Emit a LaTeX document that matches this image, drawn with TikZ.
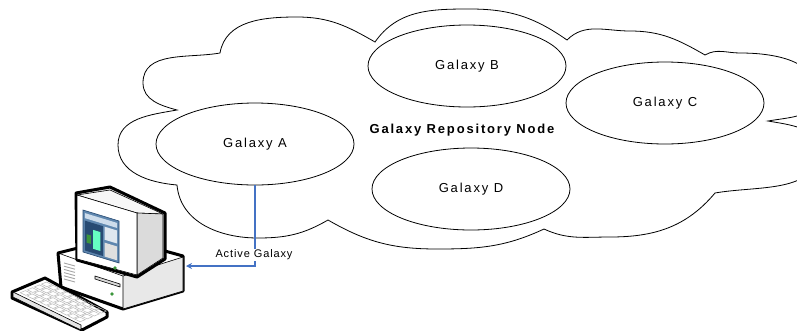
\documentclass[tikz,border=0pt]{standalone}
\usepackage{fontspec}
\setmainfont{Liberation Sans}
\newfontfamily\galfont{Liberation Sans}[LetterSpace=14]
\newfontfamily\notefont{Liberation Sans}[LetterSpace=8]
\usetikzlibrary{shapes.geometric,calc,arrows.meta}
\definecolor{linkblue}{RGB}{68,114,196}
\definecolor{scrblue}{RGB}{95,135,175}
\definecolor{scrdark}{RGB}{40,75,115}
\definecolor{scrlight}{RGB}{205,220,235}
\definecolor{ledgreen}{RGB}{60,150,60}
\begin{document}
\begin{tikzpicture}[x=1pt,y=1pt,
  galaxy/.style={ellipse, draw, fill=white, line width=0.8pt,
    minimum width=198pt, minimum height=82pt, inner sep=0pt,
    font=\galfont\fontsize{13}{15}\selectfont},
  cloudline/.style={draw, line width=0.8pt, fill=white},
  outline/.style={draw=black, line width=3pt, line join=round},
  thin/.style={draw=black, line width=0.6pt, line join=round},
  link/.style={linkblue, line width=1.3pt, -{Stealth[length=6pt,width=6pt]}}]
\useasboundingbox (0,0) rectangle (797,-330);

% repository cloud (runs past the right edge)
\begin{scope}
\clip (0,0) rectangle (797,-330);
\path[cloudline] (220,-53)
  to[out=80,in=180] (297,-17) to[out=0,in=150] (375,-42)
  to[out=55,in=180] (470,-9) to[out=0,in=145] (567,-40)
  to[out=45,in=180] (630,-31) to[out=0,in=150] (705,-55)
  to[out=30,in=180] (740,-53) to[out=0,in=90] (818,-95) to[out=-90,in=10] (768,-121)
  to[out=-10,in=90] (818,-150) to[out=-90,in=10] (715,-193)
  to[out=-130,in=0] (610,-237) to[out=180,in=-25] (544,-229)
  to[out=-155,in=0] (437,-249) to[out=180,in=-30] (328,-220)
  to[out=-150,in=0] (258,-238) to[out=180,in=-85] (177,-185)
  to[out=175,in=-90] (118,-145) to[out=90,in=190] (177,-110)
  to[out=165,in=-90] (143,-83) to[out=90,in=190] (220,-53) -- cycle;
\end{scope}

% galaxies
\node[galaxy] (ga) at (255,-144) {Galaxy A};
\node[galaxy] (gb) at (467,-66) {Galaxy B};
\node[galaxy] (gc) at (665,-103) {Galaxy C};
\node[galaxy] (gd) at (471,-189) {Galaxy D};
\node[font=\galfont\bfseries\fontsize{13}{15}\selectfont] (repo) at (462,-130) {Galaxy Repository Node};

% workstation: system case
\path[outline, fill=white] (58,-253) -- (118,-238) -- (183,-256) -- (183,-291)
  -- (123,-309) -- (61,-287) -- cycle;
\path[thin, fill=gray!18] (123,-276) -- (183,-257) -- (183,-291) -- (123,-309) -- cycle;
\draw[thin] (58,-253) -- (123,-276);
\foreach \i in {0,...,5}
  \draw[gray!70, line width=0.9pt] (64,{-263-3.2*\i}) -- (75,{-266-3.2*\i});
\path[thin, fill=gray!30] (95,-276) -- (120,-284) -- (120,-287) -- (95,-279) -- cycle;
\fill[ledgreen] (112,-294) circle (1.8);

% workstation: monitor
\path[outline, fill=gray!15] (76,-193) -- (110,-187) -- (165,-213) -- (165,-259)
  -- (137,-277) -- (77,-260) -- cycle;
\path[thin, fill=gray!6] (77,-195) -- (110,-190) -- (163,-214) -- (137,-213) -- cycle;
\path[thin, fill=gray!28] (137,-213) -- (163,-214) -- (163,-258) -- (137,-275) -- cycle;
\path[thin, fill=white] (77,-195) -- (137,-213) -- (137,-275) -- (77,-259) -- cycle;
\begin{scope}[cm={36,-11,0,-42,(83,-210)}]
  \fill[scrblue] (0,0) rectangle (1,1);
  \fill[scrlight] (0.05,0.06) rectangle (0.95,0.18);
  \fill[scrdark] (0.05,0.24) rectangle (0.55,0.95);
  \fill[ledgreen] (0.1,0.55) rectangle (0.22,0.75);
  \fill[green!40!cyan!60!white] (0.28,0.4) rectangle (0.48,0.85);
  \fill[white!80!scrblue] (0.6,0.24) rectangle (0.95,0.55);
  \fill[gray!25] (0.6,0.62) rectangle (0.95,0.95);
\end{scope}
\path[draw=scrdark, line width=0.6pt] (83,-210) -- (119,-221) -- (119,-263) -- (83,-252) -- cycle;
\fill[ledgreen] (115,-268) circle (1.8);

% workstation: keyboard
\path[outline, fill=white] (12,-292) -- (45,-278) -- (107,-312) -- (107,-317)
  -- (82,-330) -- (12,-298) -- cycle;
\path[thin, fill=gray!20] (13,-292) -- (81,-325) -- (81,-330) -- (13,-297) -- cycle;
\begin{scope}[cm={32,13,68,-33,(13,-292)}]
  \foreach \i in {0,...,3}
    \foreach \j in {0,...,8}
      \draw[gray!55, line width=0.5pt] ({0.1+0.22*\i},{0.06+0.1*\j}) rectangle ++(0.16,0.08);
\end{scope}

% link from the active galaxy to the workstation
\coordinate (ws) at (186,-266);
\draw[link] (ga.south) |- (ws);
\node[fill=white, inner sep=1pt, font=\notefont\fontsize{11}{13}\selectfont] (act) at (254,-255) {Active Galaxy};
\end{tikzpicture}
\end{document}
